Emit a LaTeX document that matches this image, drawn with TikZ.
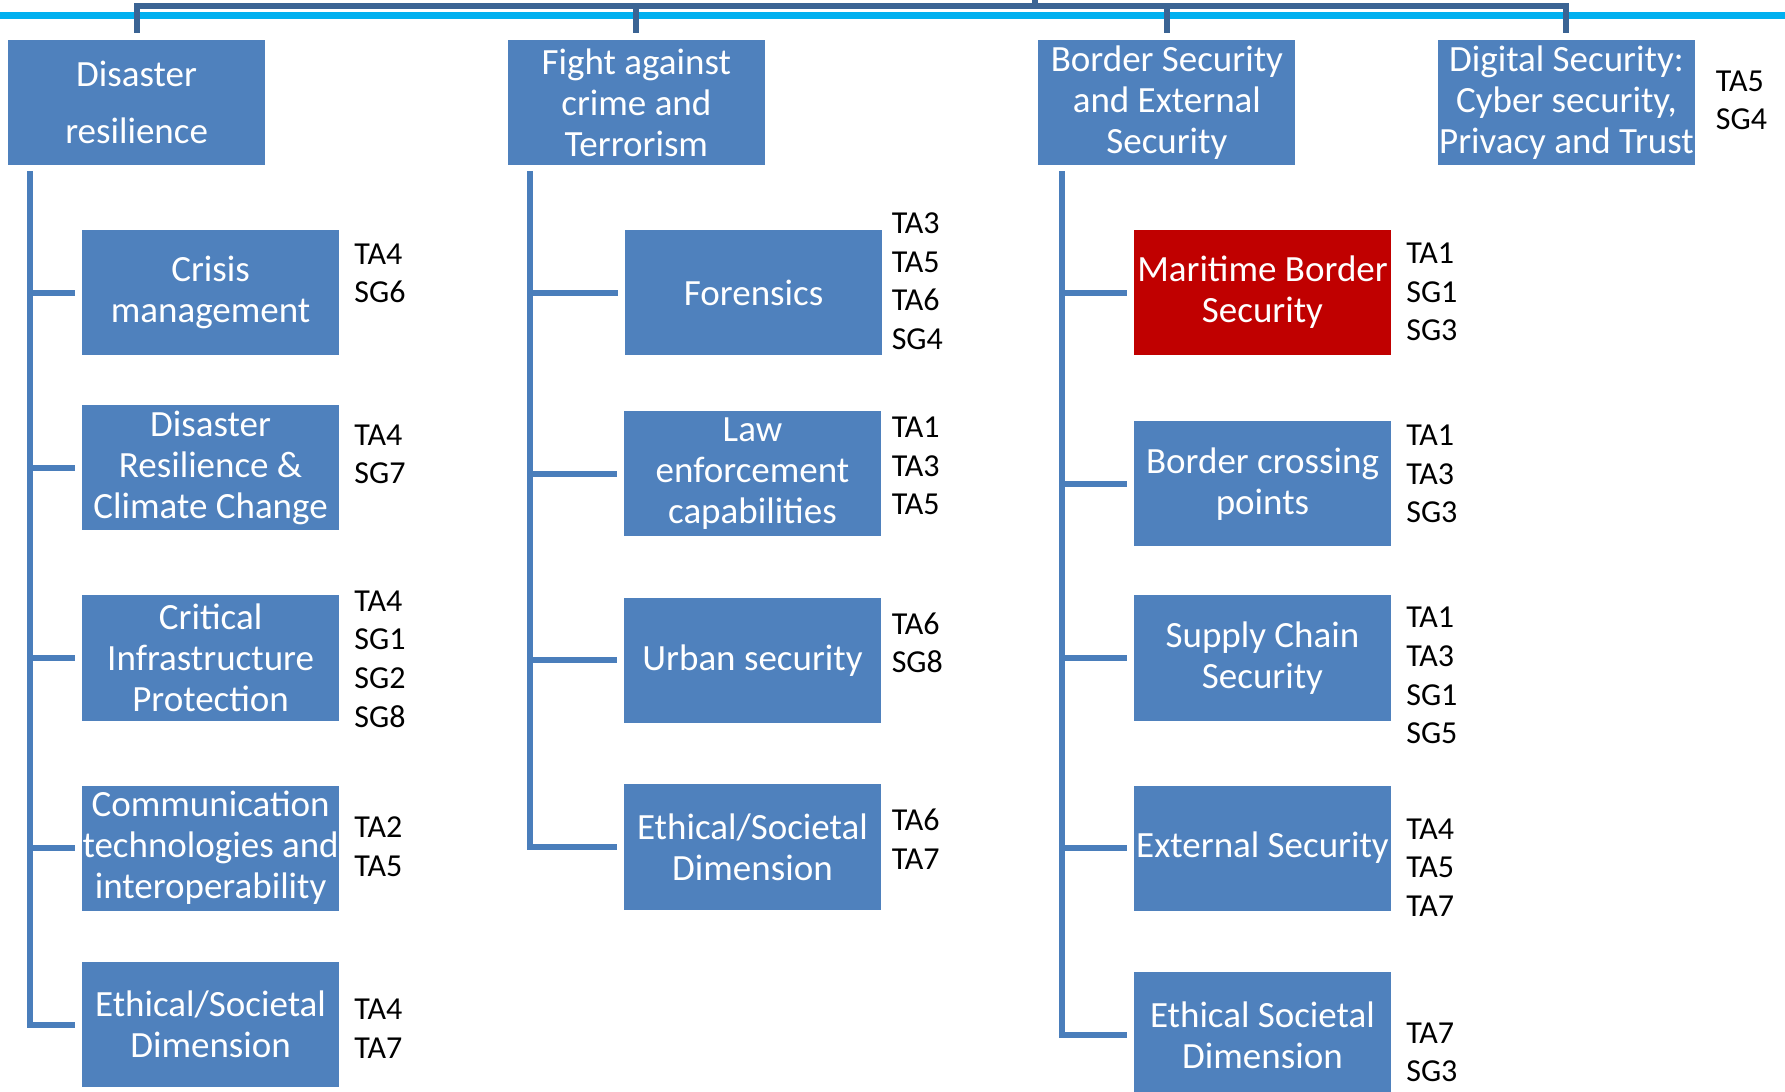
\documentclass[tikz,border=0pt]{standalone}
\usepackage{fontspec}
\setmainfont{Carlito}
\usetikzlibrary{calc,positioning}
\definecolor{boxblue}{HTML}{4F81BD}
\definecolor{linkblue}{HTML}{4A7EBB}
\definecolor{topblue}{HTML}{3B6494}
\definecolor{boxred}{HTML}{C00000}
\definecolor{bandcyan}{HTML}{00B0F0}
\tikzstyle{box} = [fill=boxblue, text=white, align=center, inner sep=0pt, minimum width=128.6pt, minimum height=62.6pt, font=\fontsize{18.5}{20.5}\selectfont]
\tikzstyle{codes} = [anchor=west, align=left, inner sep=0pt, font=\fontsize{16}{19.3}\selectfont]
\tikzstyle{branch} = [draw=linkblue, line width=3pt]
\tikzstyle{bracket} = [draw=topblue, line width=3pt]

\begin{document}
\begin{tikzpicture}[x=0.5692pt,y=-0.5692pt]
        \useasboundingbox (0,0) rectangle (1568,959);
        \draw [bandcyan, line width=3.5pt] (0,13.6) -- (1568,13.6);
        % top row
        \node [box] (1) at (120,90) {Disaster\\[8pt]resilience};
        \node [box] (2) at (559,90) {Fight against\\crime and\\Terrorism};
        \node [box] (3) at (1025,90) {Border Security\\and External\\Security};
        \node [box] (4) at (1376,90) {Digital Security:\\Cyber security,\\Privacy and Trust};
        \node [codes] (l4) at (1507,88) {TA5\\SG4};
        \coordinate (root) at (909,0);
        \draw [bracket] (root) -- ++(0,6);
        \draw [bracket] ($(1.north)+(0,-6)$) |- ($(4.north)+(0,-29)$) -- ($(4.north)+(0,-6)$);
        \foreach \n in {2,3}
            \draw [bracket] ($(\n.north)+(0,-6)$) -- ($(\n.north)+(0,-29)$);
        % disaster resilience
        \node [box] (11) at (185,257) {Crisis\\management};
        \node [box] (12) at (185,411) {Disaster\\Resilience \&\\Climate Change};
        \node [box] (13) at (185,578) {Critical\\Infrastructure\\Protection};
        \node [box] (14) at (185,745) {Communication\\technologies and\\interoperability};
        \node [box] (15) at (185,900) {Ethical/Societal\\Dimension};
        \node [codes] (l11) at (311,240) {TA4\\SG6};
        \node [codes] (l12) at (311,399) {TA4\\SG7};
        \node [codes] (l13) at (311,579) {TA4\\SG1\\SG2\\SG8};
        \node [codes] (l14) at (311,744) {TA2\\TA5};
        \node [codes] (l15) at (311,903.5) {TA4\\TA7};
        \coordinate (t1) at ($(1.south west)+(20,5)$);
        \draw [branch] (t1) |- ($(15.west)+(-6,0)$);
        \foreach \n in {11,...,14}
            \draw [branch] (t1 |- \n.west) -- ($(\n.west)+(-6,0)$);
        % crime and terrorism
        \node [box] (21) at (662,257) {Forensics};
        \node [box] (22) at (661,416) {Law\\enforcement\\capabilities};
        \node [box] (23) at (661,580) {Urban security};
        \node [box] (24) at (661,744) {Ethical/Societal\\Dimension};
        \node [codes] (l21) at (783,247) {TA3\\TA5\\TA6\\SG4};
        \node [codes] (l22) at (783,409.5) {TA1\\TA3\\TA5};
        \node [codes] (l23) at (783,564.5) {TA6\\SG8};
        \node [codes] (l24) at (783,737) {TA6\\TA7};
        \coordinate (t2) at ($(2.south west)+(20,5)$);
        \draw [branch] (t2) |- ($(24.west)+(-6,0)$);
        \foreach \n in {21,...,23}
            \draw [branch] (t2 |- \n.west) -- ($(\n.west)+(-6,0)$);
        % border and external security
        \node [box, fill=boxred] (31) at (1109,257) {Maritime Border\\Security};
        \node [box] (32) at (1109,425) {Border crossing\\points};
        \node [box] (33) at (1109,578) {Supply Chain\\Security};
        \node [box] (34) at (1109,745) {External Security};
        \node [box] (35) at (1109,909) {Ethical Societal\\Dimension};
        \node [codes] (l31) at (1235,256.5) {TA1\\SG1\\SG3};
        \node [codes] (l32) at (1235,416.5) {TA1\\TA3\\SG3};
        \node [codes] (l33) at (1235,593.5) {TA1\\TA3\\SG1\\SG5};
        \node [codes] (l34) at (1235,762) {TA4\\TA5\\TA7};
        \node [codes] (l35) at (1235,924.5) {TA7\\SG3};
        \coordinate (t3) at ($(3.south west)+(21,5)$);
        \draw [branch] (t3) |- ($(35.west)+(-6,0)$);
        \foreach \n in {31,...,34}
            \draw [branch] (t3 |- \n.west) -- ($(\n.west)+(-6,0)$);
    \end{tikzpicture}
\end{document}
